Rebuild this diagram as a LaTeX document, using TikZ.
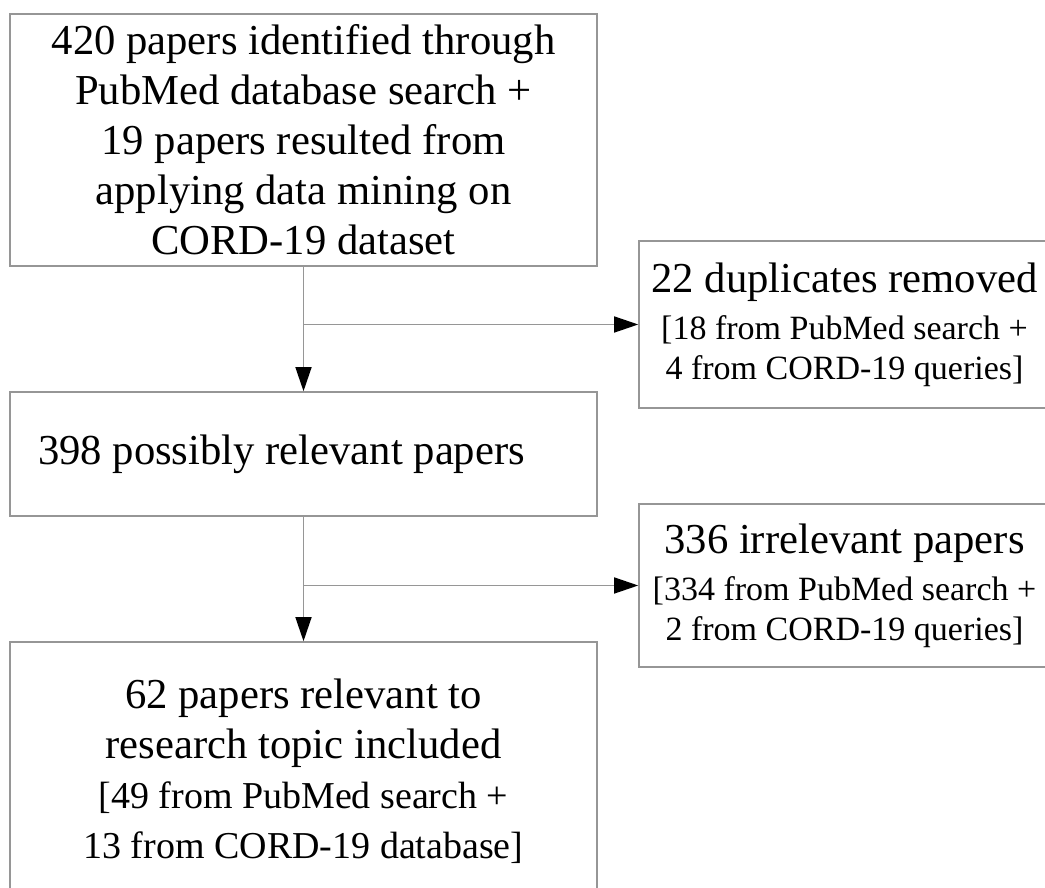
\documentclass[tikz,border=0pt]{standalone}
\usepackage{fontspec}
\setmainfont{Liberation Serif}
\usetikzlibrary{arrows.meta}

\definecolor{boxgray}{RGB}{150,150,150}
\newcommand{\bigtext}{\fontsize{32pt}{37.5pt}\selectfont}
\newcommand{\smalltext}{\fontsize{25.5pt}{30pt}\selectfont}
\newcommand{\midtext}{\fontsize{28.5pt}{37.5pt}\selectfont}

\tikzstyle{rec} = [rectangle, draw = boxgray, line width = 1.2pt, minimum width = 440.25pt, text centered, align = center, inner sep = 0pt, font = \bigtext]
\tikzstyle{rec1} = [rec, minimum width = 308.25pt, font = \smalltext]
\tikzstyle{arrow} = [line width = 1.1pt, draw = boxgray, -{Triangle[length = 18pt, width = 12pt, color = black]}]

\begin{document}
\begin{tikzpicture}[x = 0.75pt, y = 0.75pt]
    \useasboundingbox (0, 0) rectangle (1045, 888);
    \clip (0, 0) rectangle (1045, 888);
    \node(identified)[rec, minimum height = 189pt] at (303.5, 748) {420 papers identified through\\PubMed database search +\\19 papers resulted from\\applying data mining on\\CORD-19 dataset};
    \node(relevant)[rec, minimum height = 93pt] at (303.5, 434) {398 possibly relevant papers\hspace*{33pt}};
    \node(included)[rec, minimum height = 193.5pt] at (303.5, 117) {62 papers relevant to\\research topic included\\{\midtext {[}49 from PubMed search +}\\{\midtext 13 from CORD-19 database]}};
    \node(duplicates)[rec1, minimum height = 125.25pt] at (844.5, 563.5) {{\bigtext 22 duplicates removed}\\[5pt]{[}18 from PubMed search +\\4 from CORD-19 queries]};
    \node(irrelevant)[rec1, minimum height = 122.25pt] at (844.5, 302.5) {{\bigtext 336 irrelevant papers}\\[5pt]{[}334 from PubMed search +\\2 from CORD-19 queries]};
    \coordinate (split1) at (identified.south |- duplicates.west);
    \coordinate (split2) at (relevant.south |- irrelevant.west);
    \draw[arrow] (identified.south) -- (relevant.north);
    \draw[arrow] (split1) -- (duplicates.west);
    \draw[arrow] (relevant.south) -- (included.north);
    \draw[arrow] (split2) -- (irrelevant.west);
\end{tikzpicture}
\end{document}
